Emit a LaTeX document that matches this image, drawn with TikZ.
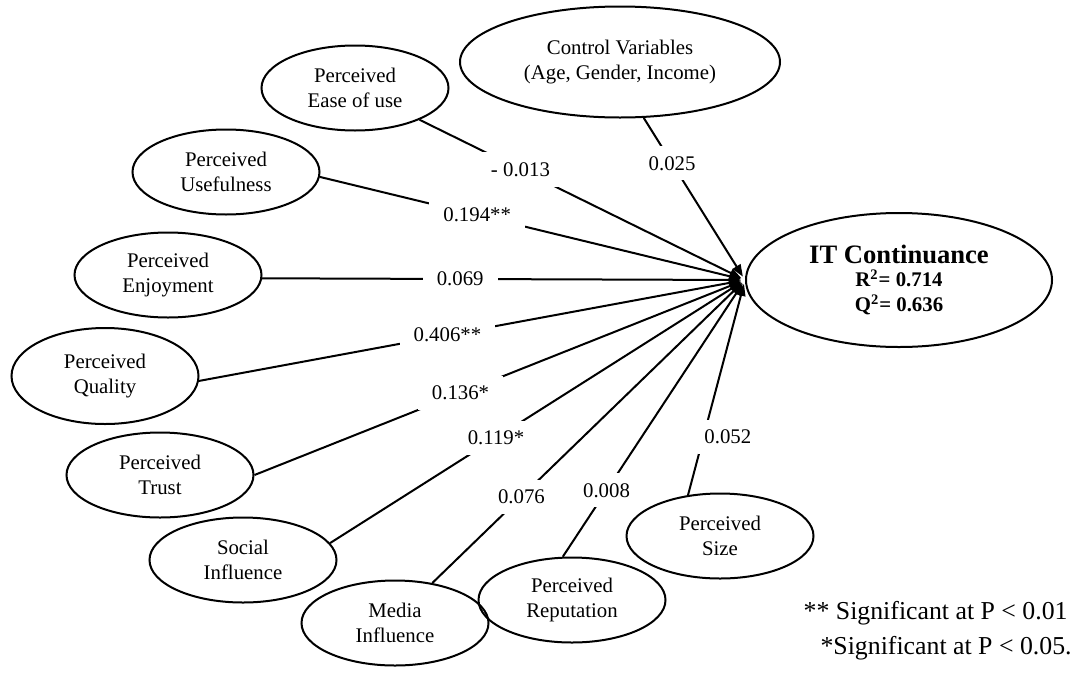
\documentclass[tikz,border=0pt]{standalone}
\usepackage{fontspec}
\setmainfont{Liberation Serif}
\usepackage{tikz}
\usetikzlibrary{arrows.meta,shapes.geometric}

\begin{document}
\begin{tikzpicture}[
  x=0.5pt, y=-0.5pt,
  var/.style={ellipse, draw, line width=1pt, minimum width=93.5pt, minimum height=42.5pt, inner sep=0pt, align=center, font=\fontsize{10.4}{12.5}\selectfont},
  coef/.style={fill=white, inner xsep=7pt, inner ysep=5pt, font=\fontsize{10.4}{12.5}\selectfont},
  eff/.style={line width=1pt, -{Triangle[length=6pt,width=4.5pt]}, shorten >=2pt},
  note/.style={anchor=east, inner sep=0pt, font=\fontsize{12.9}{15}\selectfont}
]
  \useasboundingbox (0,0) rectangle (1075,675);

  \node[var, minimum width=153pt, minimum height=67pt] (itc) at (899,280)
    {\bfseries\fontsize{13.3}{13}\selectfont IT Continuance\\[-1pt]
     \bfseries R\textsuperscript{2}= 0.714\\ \bfseries Q\textsuperscript{2}= 0.636};
  \node[var, minimum width=160pt, minimum height=55.5pt] (ctrl) at (620,62) {Control Variables\\(Age, Gender, Income)};
  \node[var] (peou) at (355,88) {Perceived\\Ease of use};
  \node[var] (pu) at (226,172) {Perceived\\Usefulness};
  \node[var] (pe) at (168,275) {Perceived\\Enjoyment};
  \node[var, minimum height=48pt] (pq) at (105,376) {Perceived\\Quality};
  \node[var] (pt) at (160,475) {Perceived\\Trust};
  \node[var] (si) at (243,560) {Social\\Influence};
  \node[var] (mi) at (395,623) {Media\\Influence};
  \node[var] (pr) at (572,600) {Perceived\\Reputation};
  \node[var] (ps) at (720,536) {Perceived\\Size};

  \draw[eff] (ctrl.-67) -- (itc.west) node[coef, pos=0.28] (c0) {0.025};
  \draw[eff] (peou) -- (itc.west) node[coef, pos=0.31] (c1) {- 0.013};
  \draw[eff] (pu.-3) -- (itc.west) node[coef, pos=0.37] (c2) {0.194**};
  \draw[eff] (pe.-2) -- (itc.west) node[coef, pos=0.41] (c3) {0.069};
  \draw[eff] (pq.-3) -- (itc.west) node[coef, pos=0.455] (c4) {0.406**};
  \draw[eff] (pt.east) -- (itc.west) node[coef, pos=0.42] (c5) {0.136*};
  \draw[eff] (si.11) -- (itc.west) node[coef, pos=0.4] (c6) {0.119*};
  \draw[eff] (mi.47) -- (itc.west) node[coef, pos=0.285] (c7) {0.076};
  \draw[eff] (pr.102) -- (itc.west) node[coef, pos=0.24] (c8) {0.008};
  \draw[eff] (ps.128) -- (itc.west) node[coef, pos=0.27, anchor=west, xshift=-3pt, inner xsep=3pt] (c9) {0.052};

  \node[note] (sig1) at (1068,613) {** Significant at P < 0.01};
  \node[note] (sig2) at (1072,648) {*Significant at P < 0.05.};
\end{tikzpicture}
\end{document}
